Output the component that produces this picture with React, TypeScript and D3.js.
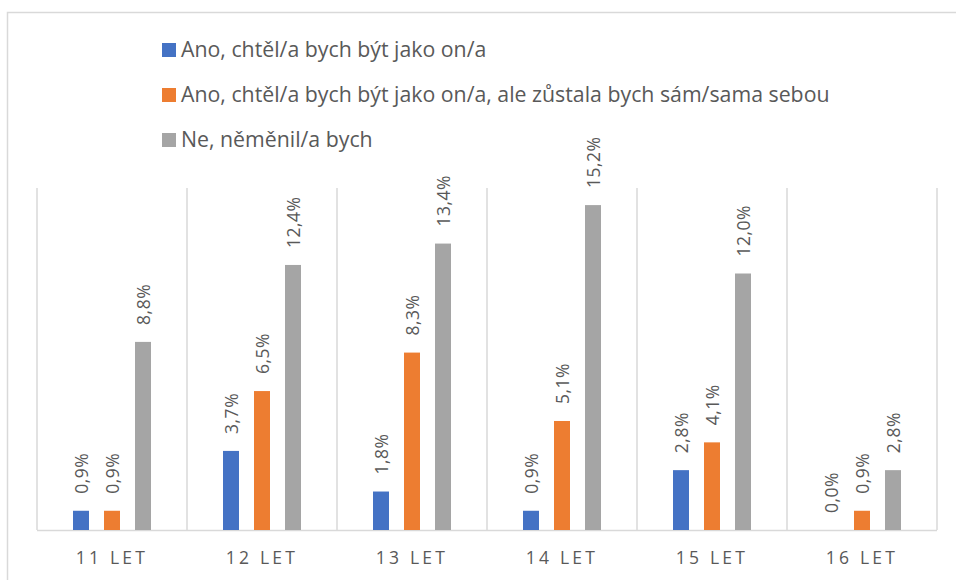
import React from "react";
import * as d3 from "d3";

const categories = ["11 LET", "12 LET", "13 LET", "14 LET", "15 LET", "16 LET"];
const seriesNames = [
  "Ano, chtěl/a bych být jako on/a",
  "Ano, chtěl/a bych být jako on/a, ale zůstala bych sám/sama sebou",
  "Ne, něměnil/a bych",
];
const seriesColors = ["#4472C4", "#ED7D31", "#A5A5A5"];
const serieA = [0.9, 3.7, 1.8, 0.9, 2.8, 0.0];
const serieB = [0.9, 6.5, 8.3, 5.1, 4.1, 0.9];
const serieC = [8.8, 12.4, 13.4, 15.2, 12.0, 2.8];
const seriesValues = [serieA, serieB, serieC];

const W = 956;
const H = 580;
const FONT = "'Open Sans', Lato, sans-serif";
const TEXT = "#595959";

export default function App() {
  const x = d3.scaleBand<string>().domain(categories).range([37, 937]).padding(0);
  const inner = d3
    .scaleBand<number>()
    .domain([0, 1, 2])
    .range([36, 114])
    .paddingInner(15 / 31)
    .paddingOuter(0);
  const y = d3.scaleLinear().domain([0, 16]).range([530, 188]);
  const fmt = (v: number) => v.toFixed(1).replace(".", ",") + "%";

  return (
    <svg
      width={W}
      height={H}
      style={{ position: "absolute", left: 0, top: 0, background: "#fff" }}
      fontFamily={FONT}
    >
      <rect x={0} y={0} width={W} height={H} fill="#fff" />
      <rect x={7.5} y={12.5} width={1200} height={1200} fill="none" stroke="#D9D9D9" strokeWidth={1.5} />

      {/* legend */}
      {seriesNames.map((n, i) => (
        <g key={n} transform={`translate(162, ${50 + i * 45})`}>
          <rect x={0} y={-7} width={14} height={14} fill={seriesColors[i]} />
          <text x={19} y={0} dy="0.35em" fontSize={21.3} fill={TEXT}>
            {n}
          </text>
        </g>
      ))}

      {/* vertical gridlines */}
      {d3.range(categories.length + 1).map((i) => {
        const xx = 37 + i * x.bandwidth();
        return <line key={i} x1={xx} x2={xx} y1={188} y2={530} stroke="#D9D9D9" strokeWidth={1.5} />;
      })}
      <line x1={37} x2={937} y1={530.5} y2={530.5} stroke="#D9D9D9" strokeWidth={1.5} />

      {/* bars */}
      {categories.map((c, ci) => (
        <g key={c} transform={`translate(${x(c)},0)`}>
          {seriesValues.map((vals, si) => {
            const v = vals[ci];
            const bx = inner(si)!;
            const bw = inner.bandwidth();
            const top = y(v);
            return (
              <g key={si}>
                {v > 0 && <rect x={bx} y={top} width={bw} height={530 - top} fill={seriesColors[si]} />}
                <text
                  transform={`translate(${bx + bw / 2 + 6.5},${top - 17}) rotate(-90)`}
                  fontSize={17.5}
                  fill={TEXT}
                  letterSpacing={0.5}
                >
                  {fmt(v)}
                </text>
              </g>
            );
          })}
          <text
            x={x.bandwidth() / 2}
            y={558}
            dy="0.35em"
            textAnchor="middle"
            fontSize={17.5}
            letterSpacing={3.2}
            fill={TEXT}
          >
            {c}
          </text>
        </g>
      ))}
    </svg>
  );
}
